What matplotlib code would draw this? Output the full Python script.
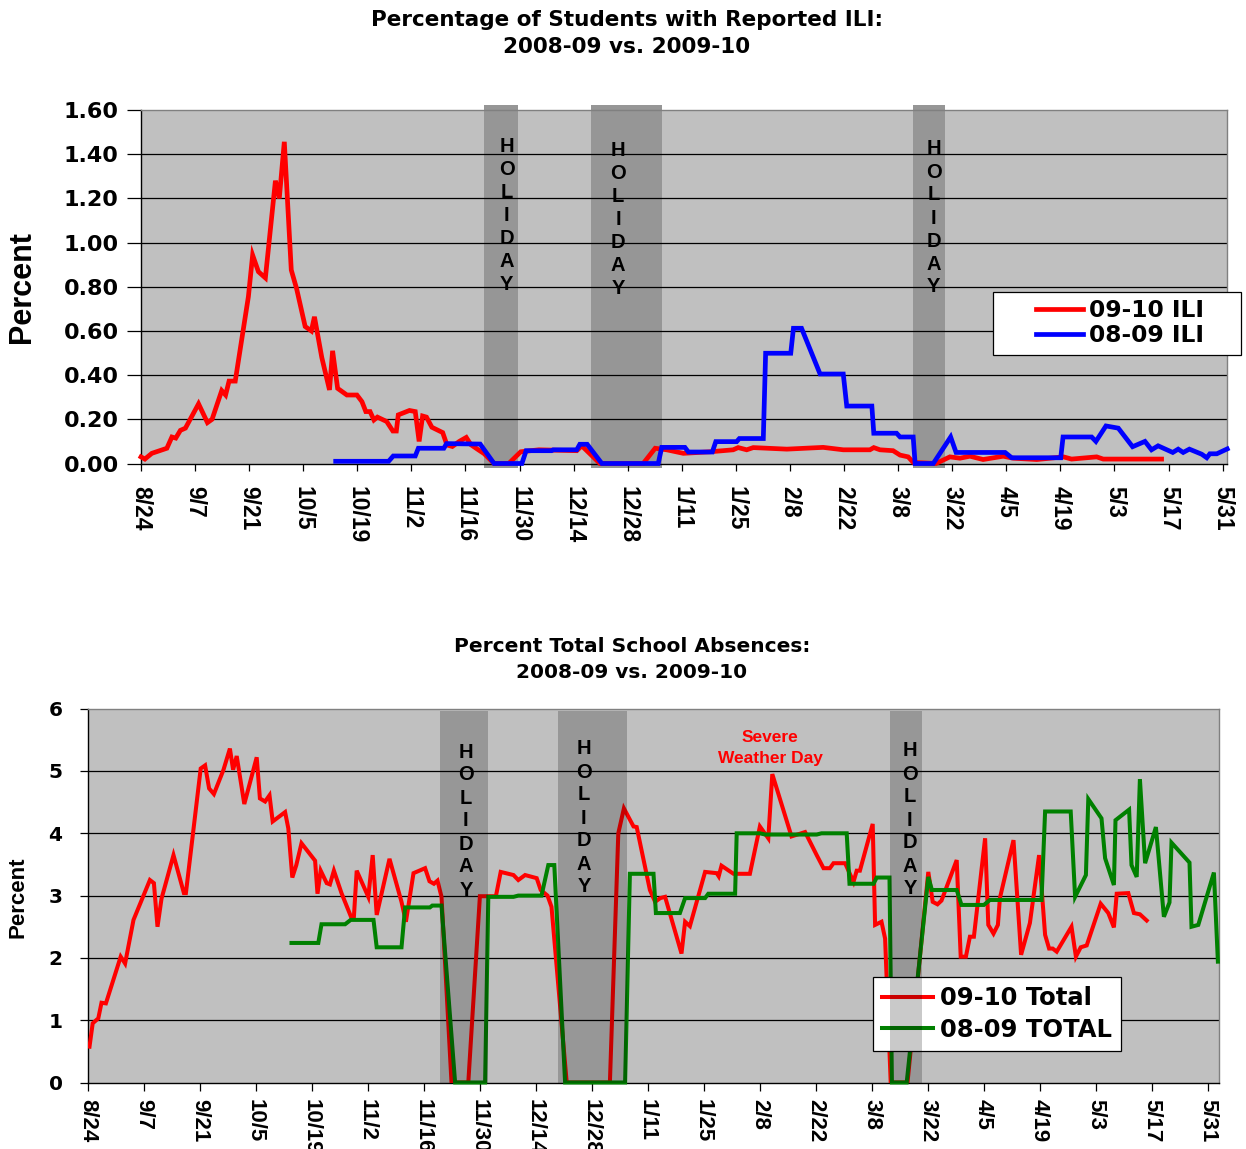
import matplotlib
matplotlib.use('Agg')
import matplotlib.pyplot as plt
from matplotlib.patches import Rectangle

W, H, DPI = 1246, 1149, 100

# ---------------- data ----------------
tick_days = list(range(0, 281, 14))
tick_labels = ["8/24", "9/7", "9/21", "10/5", "10/19", "11/2", "11/16", "11/30",
               "12/14", "12/28", "1/11", "1/25", "2/8", "2/22", "3/8", "3/22",
               "4/5", "4/19", "5/3", "5/17", "5/31"]

# ILI (top chart) -- x = days since 8/24
ili_0910_day = [0, 1, 2.8, 6.7, 8, 9, 10.2, 11.5, 14.9, 17.2, 18.4, 20.9, 21.9, 22.8, 24.4,
                27.8, 28.9, 30.4, 32.2, 34.8, 35.8, 37.1, 38.9, 40.3, 42.5, 44.1, 44.9, 46.8,
                48.8, 49.6, 50.9, 53.3, 55.9, 57.2, 58.2, 59.3, 60.3, 61.2, 63.6, 65.2, 66.1,
                66.6, 69.5, 71.0, 72.0, 72.9, 73.9, 75.3, 78.1, 79.2, 80.6, 82.4, 84.2, 85.4,
                87.5, 88.8, 91.4, 95.2, 98.3, 103.0, 112.8, 114.1, 115.4, 118.8, 130.0, 133.1,
                136.1, 140.4, 147.3, 153.3, 154.6, 156.8, 158.5, 167.2, 176.6, 181.8, 188.7,
                189.7, 191.3, 194.7, 196.5, 198.6, 199.9, 205.8, 209.4, 212.0, 214.6, 218.0,
                223.2, 225.8, 231.9, 238.8, 240.9, 247.4, 249.1, 264.2]
ili_0910_val = [0.03, 0.02, 0.046, 0.069, 0.12, 0.115, 0.15, 0.16, 0.27, 0.185, 0.20, 0.33, 0.31,
                0.373, 0.373, 0.755, 0.943, 0.868, 0.84, 1.28, 1.20, 1.456, 0.876, 0.79, 0.62,
                0.60, 0.664, 0.48, 0.333, 0.51, 0.34, 0.31, 0.31, 0.28, 0.235, 0.235, 0.197,
                0.21, 0.19, 0.147, 0.147, 0.22, 0.24, 0.235, 0.10, 0.215, 0.21, 0.164, 0.14,
                0.084, 0.077, 0.10, 0.118, 0.085, 0.06, 0.045, 0.0, 0.0, 0.053, 0.062, 0.058,
                0.08, 0.058, 0.0, 0.0, 0.069, 0.062, 0.046, 0.053, 0.062, 0.072, 0.062, 0.072,
                0.065, 0.073, 0.062, 0.062, 0.072, 0.062, 0.058, 0.038, 0.03, 0.005, 0.0, 0.03,
                0.024, 0.033, 0.018, 0.033, 0.024, 0.018, 0.03, 0.02, 0.03, 0.02, 0.02]

ili_0809_day = [50.4, 64.1, 65.3, 71.0, 71.8, 78.4, 79.1, 87.8, 91.4, 98.6, 99.7, 106.3, 106.7,
                112.8, 113.6, 115.5, 119.3, 133.9, 134.8, 140.8, 141.7, 147.9, 148.8, 154.2,
                154.9, 161.1, 161.7, 168.2, 168.9, 171.0, 175.8, 181.8, 182.7, 189.2, 189.7,
                195.6, 196.5, 199.9, 200.4, 205.1, 209.6, 211.0, 223.7, 225.4, 238.1, 238.7,
                246.1, 247.2, 249.8, 253.0, 256.7, 259.9, 261.6, 263.3, 267.1, 268.5, 269.8,
                271.4, 274.6, 275.9, 276.7, 278.5, 281.2]
ili_0809_val = [0.01, 0.01, 0.034, 0.034, 0.069, 0.069, 0.09, 0.088, 0.0, 0.0, 0.058, 0.058, 0.062,
                0.062, 0.087, 0.087, 0.0, 0.0, 0.073, 0.073, 0.052, 0.052, 0.099, 0.099, 0.113,
                0.113, 0.499, 0.499, 0.612, 0.612, 0.405, 0.405, 0.26, 0.26, 0.137, 0.137, 0.12,
                0.12, 0.0, 0.0, 0.12, 0.05, 0.05, 0.026, 0.026, 0.12, 0.12, 0.10, 0.17, 0.16,
                0.076, 0.10, 0.062, 0.08, 0.05, 0.065, 0.05, 0.065, 0.042, 0.026, 0.044, 0.044,
                0.066]

# Absences (bottom chart)
abs_0910_day = [0.5, 1.3, 2.7, 3.5, 4.6, 8.3, 9.4, 11.5, 15.6, 16.6, 17.5, 18.5, 21.5, 24.1, 24.6,
                28.3, 29.4, 30.4, 31.6, 34.0, 35.6, 36.4, 37.3, 39.2, 42.3, 43.1, 44.4, 45.5,
                46.3, 49.4, 50.2, 51.2, 52.2, 53.5, 56.9, 57.5, 58.3, 59.8, 60.6, 61.6, 63.5,
                66.0, 66.6, 67.3, 70.2, 71.3, 72.3, 75.5, 78.5, 79.6, 81.5, 84.4, 85.5, 86.6,
                87.5, 88.5, 91.0, 95.2, 98.1, 102.1, 103.3, 106.5, 107.7, 109.4, 112.3, 113.3,
                115.0, 116.0, 119.8, 130.6, 132.7, 134.1, 136.5, 137.3, 140.6, 141.9, 143.2,
                144.4, 148.5, 149.4, 150.6, 154.4, 157.3, 157.8, 158.5, 161.5, 165.6, 168.1,
                170.2, 171.2, 176.0, 179.4, 182.3, 184.0, 185.6, 186.5, 189.4, 191.5, 192.3,
                193.1, 196.3, 196.9, 198.5, 199.4, 200.8, 205.0, 210.2, 211.3, 212.5, 213.5,
                217.3, 218.3, 219.6, 220.6, 221.6, 224.4, 225.2, 226.5, 227.6, 228.1, 231.5,
                233.4, 235.6, 237.9, 239.4, 240.4, 241.3, 242.3, 246.0, 247.1, 248.3, 249.8,
                253.3, 255.2, 256.6, 257.3, 260.2, 261.6, 263.1, 264.8]
abs_0910_val = [0.575, 0.95, 1.03, 1.28, 1.27, 2.02, 1.91, 2.61, 3.25, 3.20, 2.50, 2.95, 3.65, 3.04,
                3.04, 5.04, 5.09, 4.72, 4.63, 5.02, 5.36, 5.02, 5.24, 4.47, 5.22, 4.56, 4.51,
                4.61, 4.19, 4.34, 4.08, 3.29, 3.49, 3.84, 3.56, 3.03, 3.40, 3.20, 3.18, 3.40,
                3.04, 2.64, 2.66, 3.40, 2.98, 3.65, 2.69, 3.59, 2.90, 2.58, 3.36, 3.44, 3.23,
                3.19, 3.24, 2.98, 0.0, 0.0, 2.99, 2.99, 3.38, 3.33, 3.25, 3.33, 3.28, 3.09,
                3.00, 2.82, 0.0, 0.0, 4.00, 4.40, 4.11, 4.10, 3.09, 2.90, 2.96, 2.98, 2.07,
                2.58, 2.51, 3.38, 3.36, 3.31, 3.48, 3.35, 3.35, 4.11, 3.92, 4.95, 3.95, 4.02,
                3.65, 3.44, 3.44, 3.52, 3.52, 3.22, 3.40, 3.40, 4.15, 2.53, 2.58, 2.31, 0.0,
                0.0, 3.38, 2.90, 2.86, 2.92, 3.57, 2.02, 2.02, 2.34, 2.34, 3.92, 2.53, 2.39,
                2.53, 2.96, 3.89, 2.05, 2.56, 3.65, 2.37, 2.15, 2.15, 2.10, 2.50, 2.02, 2.17,
                2.20, 2.87, 2.72, 2.49, 3.03, 3.04, 2.72, 2.70, 2.60]

abs_0809_day = [51.0, 57.7, 58.5, 64.4, 65.8, 71.5, 72.3, 78.5, 79.4, 85.6, 86.2, 88.5, 91.9,
                99.4, 100.2, 106.5, 107.7, 113.5, 115.2, 116.7, 119.4, 134.4, 135.6, 141.5,
                142.1, 148.1, 149.4, 154.4, 155.2, 161.9, 162.3, 168.1, 169.4, 182.3, 183.5,
                189.8, 190.5, 196.5, 197.3, 200.5, 201.1, 204.8, 210.2, 211.1, 217.3, 218.5,
                224.1, 225.6, 238.5, 239.4, 245.8, 246.9, 249.6, 250.2, 253.5, 254.4, 256.6,
                257.0, 260.4, 261.0, 262.3, 263.1, 264.4, 267.1, 269.1, 270.5, 271.0, 275.5,
                276.0, 277.7, 281.6, 282.6]
abs_0809_val = [2.24, 2.24, 2.54, 2.54, 2.61, 2.61, 2.17, 2.17, 2.81, 2.81, 2.84, 2.84, 0.0, 0.0,
                2.98, 2.98, 3.00, 3.00, 3.49, 3.49, 0.0, 0.0, 3.35, 3.35, 2.72, 2.72, 2.96,
                2.96, 3.03, 3.03, 4.00, 4.00, 3.98, 3.98, 4.00, 4.00, 3.19, 3.19, 3.29, 3.29,
                0.0, 0.0, 3.30, 3.09, 3.09, 2.85, 2.85, 2.93, 2.93, 4.35, 4.35, 2.98, 3.33,
                4.55, 4.24, 3.60, 3.17, 4.21, 4.38, 3.49, 3.30, 4.87, 3.52, 4.10, 2.66, 2.89,
                3.85, 3.53, 2.50, 2.53, 3.37, 1.94]

top_holidays = [(88.8, 97.5), (116.5, 134.9), (199.9, 208.1)]
top_holiday_text_day = [94.7, 123.5, 205.2]
top_holiday_text_px = [146.3, 150.3, 149.0]   # pixel y of the letter H
bot_holidays = [(88.1, 100.0), (117.7, 134.8), (200.6, 208.6)]
bot_holiday_text_day = [94.6, 124.1, 205.6]
bot_holiday_text_px = [752.0, 749.0, 751.0]

# ---------------- layout ----------------
fig = plt.figure(figsize=(W / DPI, H / DPI), dpi=DPI, facecolor='white')

def fx(px):
    return px / W

def fy(py):
    return 1 - py / H

BOLD_D = dict(family='DejaVu Sans', weight='bold')
BOLD_L = dict(family='Liberation Sans', weight='bold')

# ============ TOP ============
t_left, t_right, t_bot, t_top = 141, 1227, 463.5, 110
ax1 = fig.add_axes([fx(t_left), fy(t_bot), fx(t_right - t_left), (t_bot - t_top) / H])
ax1.set_facecolor('#C0C0C0')
ax1.set_xlim(0, (t_right - t_left) / (54.08 / 14))
ax1.set_ylim(0, 1.6)
t_ppu = (t_bot - t_top) / 1.6

for (a, b) in top_holidays:
    ax1.add_patch(Rectangle((a, -4 / t_ppu), b - a, 1.6 + 9 / t_ppu, facecolor='#969696',
                            edgecolor='none', zorder=1, clip_on=False))
for yv in [0.2, 0.4, 0.6, 0.8, 1.0, 1.2, 1.4]:
    ax1.axhline(yv, color='black', lw=0.9, zorder=1.5)

ax1.plot(ili_0910_day, ili_0910_val, color='#FF0000', lw=3.4, zorder=3,
         solid_joinstyle='miter', label='09-10 ILI', clip_on=False)
ax1.plot(ili_0809_day, ili_0809_val, color='#0000FF', lw=3.4, zorder=3,
         solid_joinstyle='miter', label='08-09 ILI', clip_on=False)

for xd, ypx in zip(top_holiday_text_day, top_holiday_text_px):
    for i, ch in enumerate("HOLIDAY"):
        yv = (t_bot - (ypx + 23.0 * i)) / t_ppu
        ax1.text(xd, yv, ch, ha='center', va='center', fontsize=14.5, zorder=4, **BOLD_L)

ax1.set_xticks(tick_days)
ax1.set_xticklabels(tick_labels, rotation=270, fontsize=16.5, **BOLD_L)
ax1.set_yticks([0, 0.2, 0.4, 0.6, 0.8, 1.0, 1.2, 1.4, 1.6])
ax1.set_yticklabels(['%.2f' % v for v in [0, 0.2, 0.4, 0.6, 0.8, 1.0, 1.2, 1.4, 1.6]],
                    fontsize=16, **BOLD_D)
for lab in ax1.get_xticklabels():
    lab.set_va('top'); lab.set_ha('center')
ax1.tick_params(axis='x', direction='out', length=5, width=0.9, pad=11)
ax1.tick_params(axis='y', direction='out', length=10, width=0.9, pad=6)
for s in ['left', 'bottom']:
    ax1.spines[s].set_color('black'); ax1.spines[s].set_linewidth(1)
for s in ['top', 'right']:
    ax1.spines[s].set_color('#808080'); ax1.spines[s].set_linewidth(1)

fig.text(fx(22), fy(287), 'Percent', rotation=90, ha='center', va='center', fontsize=22, **BOLD_L)
fig.text(fx(627), fy(20), 'Percentage of Students with Reported ILI:', ha='center', va='center',
         fontsize=15.5, **BOLD_D)
fig.text(fx(627), fy(47), '2008-09 vs. 2009-10', ha='center', va='center', fontsize=15.5, **BOLD_D)

# top legend: frame + figure legend
fig.patches.append(Rectangle((fx(992.7), fy(355)), fx(1240.7 - 992.7), (355 - 291.7) / H,
                             transform=fig.transFigure, facecolor='white', edgecolor='black',
                             lw=0.9, zorder=2))
h1, l1 = ax1.get_legend_handles_labels()
leg1 = fig.legend(h1, l1, loc='center left', bbox_to_anchor=(fx(1036), fy(323.3)),
                  frameon=False, prop=dict(size=16.8, **BOLD_D), handlelength=2.0,
                  handletextpad=0.28, labelspacing=0.08, borderpad=0, borderaxespad=0)
leg1.set_zorder(5)

# ============ BOTTOM ============
b_left, b_right, b_bot, b_top = 87.5, 1219, 1082.5, 708.7
ax2 = fig.add_axes([fx(b_left), fy(b_bot), fx(b_right - b_left), (b_bot - b_top) / H])
ax2.set_facecolor('#C0C0C0')
ax2.set_xlim(0, (b_right - b_left) / 4.0)
ax2.set_ylim(0, 6)
b_ppu = (b_bot - b_top) / 6

for yv in [1, 2, 3, 4, 5]:
    ax2.axhline(yv, color='black', lw=0.9, zorder=1.5)

ax2.plot(abs_0910_day, abs_0910_val, color='#FF0000', lw=2.9, zorder=3,
         solid_joinstyle='miter', label='09-10 Total')
ax2.plot(abs_0809_day, abs_0809_val, color='#008000', lw=2.9, zorder=3,
         solid_joinstyle='miter', label='08-09 TOTAL', clip_on=False)

for (a, b) in bot_holidays:
    ax2.add_patch(Rectangle((a, 0), b - a, (b_bot - 711) / b_ppu, facecolor='black',
                            alpha=0.21, edgecolor='none', zorder=6))
for xd, ypx in zip(bot_holiday_text_day, bot_holiday_text_px):
    for i, ch in enumerate("HOLIDAY"):
        yv = (b_bot - (ypx + 23.0 * i)) / b_ppu
        ax2.text(xd, yv, ch, ha='center', va='center', fontsize=14.5, zorder=7, **BOLD_L)

ax2.text((770 - b_left) / 4.0, (b_bot - 738) / b_ppu, 'Severe', color='#FF0000', ha='center',
         va='center', fontsize=12.5, zorder=7, **BOLD_L)
ax2.text((770 - b_left) / 4.0, (b_bot - 759) / b_ppu, 'Weather Day', color='#FF0000',
         ha='center', va='center', fontsize=12.5, zorder=7, **BOLD_L)

ax2.set_xticks(tick_days)
ax2.set_xticklabels(tick_labels, rotation=270, fontsize=16, **BOLD_L)
for lab in ax2.get_xticklabels():
    lab.set_va('top'); lab.set_ha('center')
ax2.set_yticks([0, 1, 2, 3, 4, 5, 6])
ax2.set_yticklabels(['0', '1', '2', '3', '4', '5', '6'], fontsize=14.5, **BOLD_D)
ax2.tick_params(axis='x', direction='out', length=6, width=0.9, pad=6)
ax2.tick_params(axis='y', direction='out', length=6, width=0.9, pad=12)
for s in ['left', 'bottom']:
    ax2.spines[s].set_color('black'); ax2.spines[s].set_linewidth(1)
for s in ['top', 'right']:
    ax2.spines[s].set_color('#808080'); ax2.spines[s].set_linewidth(1)

leg2 = ax2.legend(loc='upper left', bbox_to_anchor=(fx(872.7 - b_left) / fx(b_right - b_left),
                                                    (b_bot - 976.7) / (b_bot - b_top)),
                  frameon=True, fancybox=False, prop=dict(size=17.5, **BOLD_D),
                  handlelength=2.1, handletextpad=0.25, labelspacing=0.3, borderpad=0.4,
                  borderaxespad=0)
leg2.get_frame().set_edgecolor('black')
leg2.get_frame().set_linewidth(0.9)
leg2.get_frame().set_alpha(1)
leg2.set_zorder(5)

fig.text(fx(18), fy(897), 'Percent', rotation=90, ha='center', va='center', fontsize=16, **BOLD_L)
fig.text(fx(632), fy(646), 'Percent Total School Absences:', ha='center', va='center',
         fontsize=14.5, **BOLD_D)
fig.text(fx(632), fy(672), '2008-09 vs. 2009-10', ha='center', va='center', fontsize=14.5, **BOLD_D)

fig.savefig('out.png', dpi=DPI)
